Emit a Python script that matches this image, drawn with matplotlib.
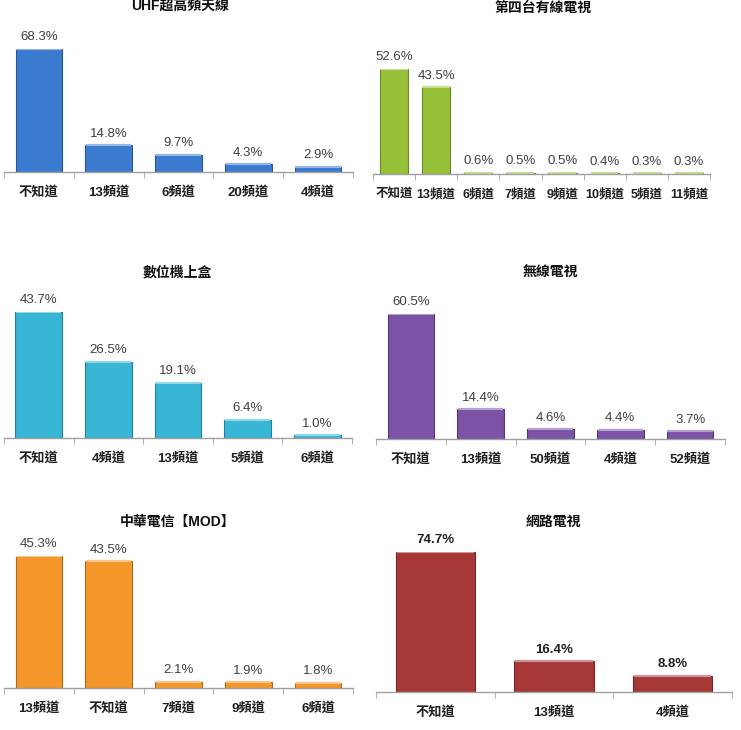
import matplotlib.pyplot as plt
import matplotlib.colors as mcolors
import numpy as np

# data
uhf_labels = ['不知道', '13頻道', '6頻道', '20頻道', '4頻道']
uhf_values = [68.3, 14.8, 9.7, 4.3, 2.9]

cable_labels = ['不知道', '13頻道', '6頻道', '7頻道', '9頻道', '10頻道', '5頻道', '11頻道']
cable_values = [52.6, 43.5, 0.6, 0.5, 0.5, 0.4, 0.3, 0.3]

stb_labels = ['不知道', '4頻道', '13頻道', '5頻道', '6頻道']
stb_values = [43.7, 26.5, 19.1, 6.4, 1.0]

wireless_labels = ['不知道', '13頻道', '50頻道', '4頻道', '52頻道']
wireless_values = [60.5, 14.4, 4.6, 4.4, 3.7]

mod_labels = ['13頻道', '不知道', '7頻道', '9頻道', '6頻道']
mod_values = [45.3, 43.5, 2.1, 1.9, 1.8]

net_labels = ['不知道', '13頻道', '4頻道']
net_values = [74.7, 16.4, 8.8]

titles = ['UHF超高頻天線', '第四台有線電視', '數位機上盒', '無線電視', '中華電信【MOD】', '網路電視']

W, H = 741, 730
fam = ['Liberation Sans', 'Noto Sans CJK TC', 'DejaVu Sans']
plt.rcParams['font.family'] = fam

fig = plt.figure(figsize=(W / 100, H / 100), dpi=100)

# layout in pixels: left, right, baseline, top of tallest bar, title x, title y, tick label size
panels = [
    (uhf_labels, uhf_values, (4, 353, 172, 49, 180, 6, 9.5), '#3b7bcf'),
    (cable_labels, cable_values, (373, 710, 174, 69, 543, 8, 9.0), '#98c13a'),
    (stb_labels, stb_values, (4, 352, 438, 312, 177, 273, 9.5), '#38b6d6'),
    (wireless_labels, wireless_values, (376, 725, 439, 314, 550, 273, 9.5), '#7b52a6'),
    (mod_labels, mod_values, (4, 353, 688, 556, 178, 522, 9.5), '#f5962a'),
    (net_labels, net_values, (376, 732, 692, 552, 553, 522, 9.5), '#a63838'),
]

for i, (labels, values, (l, r, base, top, tx, ty, fs), color) in enumerate(panels):
    ax = fig.add_axes([l / W, (H - base) / H, (r - l) / W, (base - top) / H])
    n = len(values)
    x = np.arange(n)
    dark = [c * 0.7 for c in mcolors.to_rgb(color)]
    light = [min(1, c + (1 - c) * 0.45) for c in mcolors.to_rgb(color)]
    bars = ax.bar(x, values, width=0.67, color=color, edgecolor=dark, linewidth=0.8)
    # lighter bevel on top of each bar
    for b, v in zip(bars, values):
        ax.plot([b.get_x() + 0.01, b.get_x() + b.get_width() - 0.01], [v, v],
                color=light, lw=1.6, solid_capstyle='butt')
    ax.set_xlim(-0.5, n - 0.5)
    ax.set_ylim(0, max(values))
    for s in ['top', 'right', 'left']:
        ax.spines[s].set_visible(False)
    ax.spines['bottom'].set_color('#a0a0a0')
    ax.spines['bottom'].set_linewidth(1.0)
    ax.set_yticks([])
    ax.set_xticks(x)
    ax.set_xticklabels(labels, fontsize=fs, fontweight='bold', color='#202020')
    ax.tick_params(axis='x', which='major', length=0, pad=10)
    ax.set_xticks(np.arange(n + 1) - 0.5, minor=True)
    ax.tick_params(axis='x', which='minor', length=4, color='#a0a0a0', direction='out')
    bold = (i == 5)
    for xi, v in zip(x, values):
        ax.annotate(f'{v:.1f}%', (xi, v), xytext=(0, 4), textcoords='offset points',
                    ha='center', va='bottom', fontsize=9.5,
                    color='#202020' if bold else '#404040',
                    fontweight='bold' if bold else 'normal', annotation_clip=False)
    fig.text(tx / W, 1 - ty / H, titles[i], ha='center', va='center',
             fontsize=10, fontweight='bold', color='#101010')

fig.savefig('out.png', dpi=100, facecolor='white')
